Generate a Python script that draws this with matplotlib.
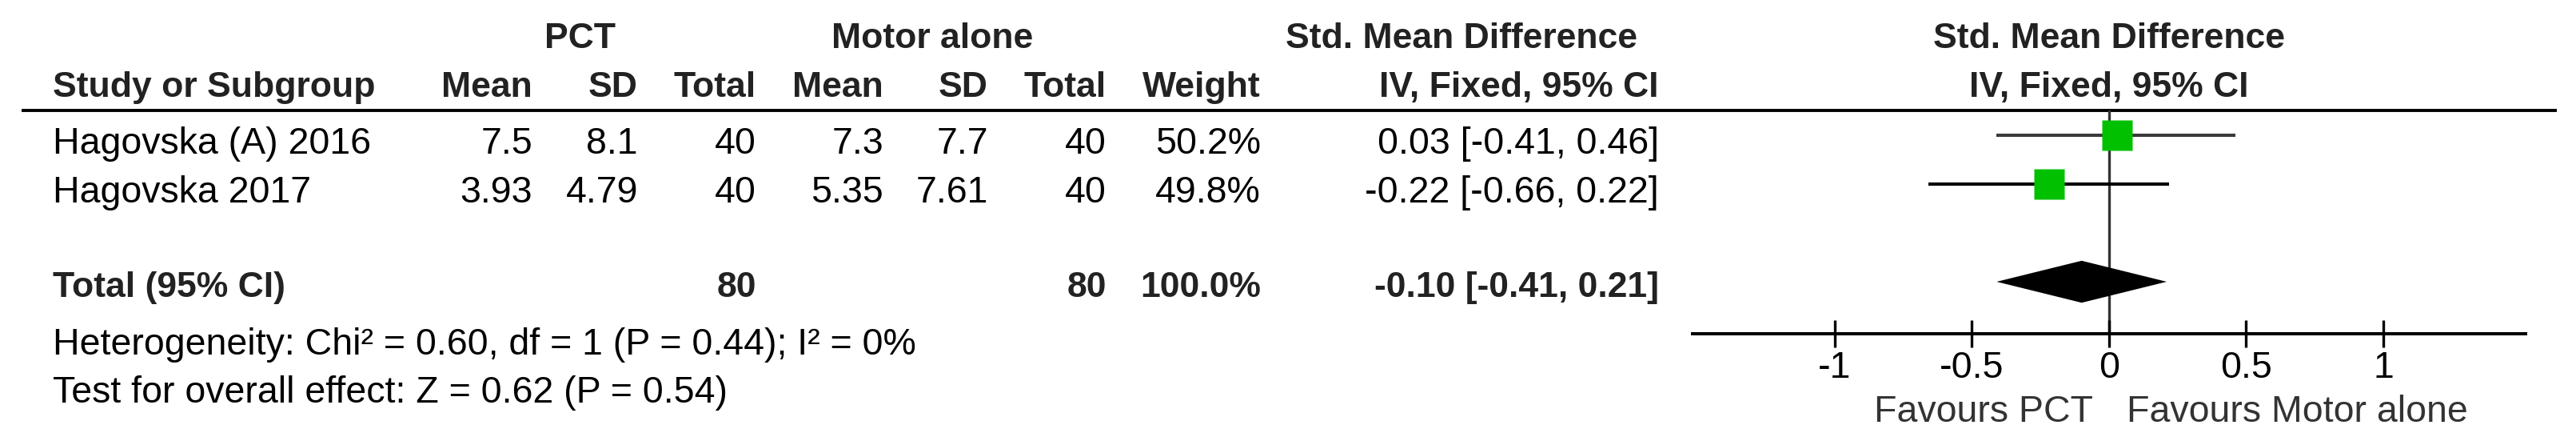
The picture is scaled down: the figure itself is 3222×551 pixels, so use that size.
import matplotlib
matplotlib.use("Agg")
import matplotlib.pyplot as plt

plt.rcParams['font.family'] = ['Liberation Sans', 'DejaVu Sans']

# data
studies = ["Hagovska (A) 2016", "Hagovska 2017"]
pct_mean = [7.5, 3.93]
pct_sd = [8.1, 4.79]
pct_n = [40, 40]
motor_mean = [7.3, 5.35]
motor_sd = [7.7, 7.61]
motor_n = [40, 40]
weights = [50.2, 49.8]
smd = [0.03, -0.22]
ci_low = [-0.41, -0.66]
ci_high = [0.46, 0.22]

total_pct_n = 80
total_motor_n = 80
total_weight = 100.0
total_smd = -0.10
total_low = -0.41
total_high = 0.21

heterogeneity = "Heterogeneity: Chi² = 0.60, df = 1 (P = 0.44); I² = 0%"
overall = "Test for overall effect: Z = 0.62 (P = 0.54)"

ticks = [-1, -0.5, 0, 0.5, 1]
tick_labels = ["-1", "-0.5", "0", "0.5", "1"]
left_label = "Favours PCT"
right_label = "Favours Motor alone"

W, H = 3223, 551
fig = plt.figure(figsize=(W / 100, H / 100), dpi=100)

# text table, pixel coords
tx = fig.add_axes([0, 0, 1, 1])
tx.set_xlim(0, W)
tx.set_ylim(H, 0)
tx.axis('off')

fs = 33.5
fsb = 32
hcol = '#222222'
pitch = 61
row0 = 192
total_row = 3

# column right edges
c_study = 66
c_pm, c_psd, c_pn = 666, 798, 946
c_mm, c_msd, c_mn = 1105, 1236, 1384
c_w = 1577
c_ci = 2075
c_plot = 2638

hb = dict(fontsize=fsb, fontweight='bold', color=hcol, va='baseline')
tx.text(726, 60, "PCT", ha='center', **hb)
tx.text(1166, 60, "Motor alone", ha='center', **hb)
tx.text(1828, 60, "Std. Mean Difference", ha='center', **hb)
tx.text(c_plot, 60, "Std. Mean Difference", ha='center', **hb)

tx.text(c_study, 121, "Study or Subgroup", ha='left', **hb)
for x, s in [(c_pm, "Mean"), (c_psd, "SD"), (c_pn, "Total"),
             (c_mm, "Mean"), (c_msd, "SD"), (c_mn, "Total"), (c_w, "Weight"),
             (c_ci, "IV, Fixed, 95% CI")]:
    tx.text(x, 121, s, ha='right', **hb)
tx.text(c_plot, 121, "IV, Fixed, 95% CI", ha='center', **hb)

tx.plot([27, 3198], [138, 138], color='black', lw=2.8, solid_capstyle='butt')

for i, name in enumerate(studies):
    y = row0 + i * pitch
    tx.text(c_study, y, name, fontsize=fs, va='baseline', ha='left')
    vals = [(c_pm, str(pct_mean[i])), (c_psd, str(pct_sd[i])), (c_pn, str(pct_n[i])),
            (c_mm, str(motor_mean[i])), (c_msd, str(motor_sd[i])), (c_mn, str(motor_n[i])),
            (c_w, f"{weights[i]:.1f}%"),
            (c_ci, f"{smd[i]:.2f} [{ci_low[i]:.2f}, {ci_high[i]:.2f}]")]
    for x, s in vals:
        tx.text(x, y, s, fontsize=fs, va='baseline', ha='right')

yt = 371
tb = dict(fontsize=fsb, fontweight='bold', color=hcol, va='baseline')
tx.text(c_study, yt, "Total (95% CI)", ha='left', **tb)
tx.text(c_pn, yt, str(total_pct_n), ha='right', **tb)
tx.text(c_mn, yt, str(total_motor_n), ha='right', **tb)
tx.text(c_w, yt, f"{total_weight:.1f}%", ha='right', **tb)
tx.text(c_ci, yt, f"{total_smd:.2f} [{total_low:.2f}, {total_high:.2f}]", ha='right', **tb)

tx.text(c_study, 443, heterogeneity, fontsize=fs, va='baseline', ha='left')
tx.text(c_study, 503, overall, fontsize=fs, va='baseline', ha='left')

tx.text(c_plot - 20, 527, left_label, fontsize=fs, color='#333333', va='baseline', ha='right')
tx.text(c_plot + 22, 527, right_label, fontsize=fs, color='#333333', va='baseline', ha='left')

# forest plot panel
px_unit = 343
x0, x1 = 2117, 3159
top, bot = 138, 417
ax = fig.add_axes([x0 / W, 1 - bot / H, (x1 - x0) / W, (bot - top) / H])
ax.patch.set_alpha(0)
ax.set_xlim((x0 - c_plot) / px_unit, (x1 - c_plot) / px_unit)
ax.set_ylim((bot - 169) / pitch, (top - 169) / pitch)
for s in ['top', 'left', 'right']:
    ax.spines[s].set_visible(False)
ax.spines['bottom'].set_linewidth(2.9)
ax.set_yticks([])
ax.set_xticks(ticks)
ax.set_xticklabels(tick_labels)
ax.tick_params(axis='x', direction='inout', length=24.5, width=2.4, pad=3, labelsize=fs)

ax.axvline(0, color='#333333', lw=2.4, zorder=1)

ci_colors = ['#3a3a3a', 'black']
for i in range(len(studies)):
    ax.plot([ci_low[i], ci_high[i]], [i, i], color=ci_colors[i], lw=2.9, zorder=2,
            solid_capstyle='butt')
    ax.plot(smd[i], i, marker='s', markersize=28, color='#00C000', mec='none', zorder=3)

dh = 0.43
ax.fill([total_low, total_smd, total_high, total_smd],
        [total_row, total_row - dh, total_row, total_row + dh], color='black', lw=0, zorder=3)

fig.savefig('out.png', dpi=100)
